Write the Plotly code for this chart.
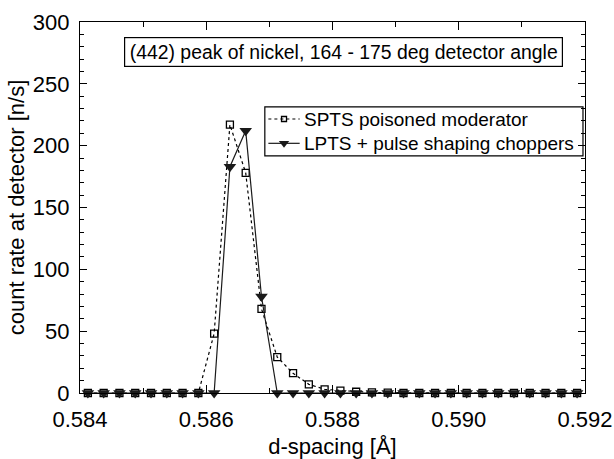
import plotly.graph_objects as go

# d-spacing grid (Å): 32 points, step 0.00025
d_spacing = [0.584125 + 0.00025 * i for i in range(32)]

# count rate [n/s], SPTS poisoned moderator
spts_counts = [0, 0, 0, 0, 0, 0, 0, 0, 48, 217, 178, 68, 29, 16, 7, 3,
               2, 1, 0.5, 0.3, 0, 0, 0, 0, 0, 0, 0, 0, 0, 0, 0, 0]

# count rate [n/s], LPTS + pulse shaping choppers
lpts_counts = [0, 0, 0, 0, 0, 0, 0, 0, 0, 183, 212, 78, 0, 0, 0, 0,
               0, 0, 0, 0, 0, 0, 0, 0, 0, 0, 0, 0, 0, 0, 0, 0]

series_names = ["SPTS poisoned moderator", "LPTS + pulse shaping choppers"]

x_ticks = [0.584, 0.586, 0.588, 0.590, 0.592]
y_ticks = [0, 50, 100, 150, 200, 250, 300]

FONT = "Liberation Sans, Arial, sans-serif"

spts_style = dict(
    line=dict(color="black", width=1.2, dash="dot"),
    marker=dict(symbol="square-open", size=7, color="black",
                line=dict(width=1.3, color="black")),
)
lpts_style = dict(
    line=dict(color="#1a1a1a", width=1.2),
    marker=dict(symbol="triangle-down", size=11, color="#1a1a1a"),
)

fig = go.Figure()

fig.add_trace(go.Scatter(
    x=d_spacing, y=spts_counts, mode="lines+markers",
    name=series_names[0], showlegend=False, cliponaxis=False, **spts_style,
))
fig.add_trace(go.Scatter(
    x=d_spacing, y=lpts_counts, mode="lines+markers",
    name=series_names[1], showlegend=False, cliponaxis=False, **lpts_style,
))

# --- compact legend box drawn on a hidden overlay axis (0..1 in plot-area units)
leg_x0, leg_x1 = 0.366, 0.996
leg_y0, leg_y1 = 0.639, 0.771
row_y = [0.7385, 0.673]
sample_x = [0.373, 0.404, 0.435]
text_x = 0.439

fig.add_shape(type="rect", xref="paper", yref="paper",
              x0=leg_x0, x1=leg_x1, y0=leg_y0, y1=leg_y1,
              line=dict(color="black", width=1.2), fillcolor="white", layer="below")

for name, style, yy, msize in zip(series_names, [spts_style, lpts_style], row_y, [5, 9]):
    marker = dict(style["marker"])
    marker["size"] = msize
    fig.add_trace(go.Scatter(
        x=sample_x, y=[yy] * 3, xaxis="x2", yaxis="y2",
        mode="lines", line=style["line"], showlegend=False, hoverinfo="skip",
    ))
    fig.add_trace(go.Scatter(
        x=[sample_x[1]], y=[yy], xaxis="x2", yaxis="y2",
        mode="markers", marker=marker, showlegend=False, hoverinfo="skip",
    ))
    fig.add_annotation(
        xref="paper", yref="paper", x=text_x, y=yy,
        xanchor="left", yanchor="middle", text=name, showarrow=False,
        font=dict(family=FONT, size=19, color="black"),
    )

axis_common = dict(
    showline=True, linecolor="black", linewidth=1.3, mirror="allticks",
    ticks="inside", tickcolor="black", tickwidth=1.2,
    showgrid=False, zeroline=False, automargin=False,
    tickfont=dict(family=FONT, size=22, color="black"),
    title_font=dict(family=FONT, size=22, color="black"),
)

fig.update_layout(
    xaxis=dict(
        range=[0.584, 0.592], tickvals=x_ticks, tickformat=".3f", ticklen=8,
        minor=dict(dtick=0.001, ticklen=5, ticks="inside", tickcolor="black", tickwidth=1.2),
        ticklabelstandoff=6,
        title=dict(text="d-spacing [Å]", standoff=10),
        **axis_common,
    ),
    yaxis=dict(
        range=[0, 300], tickvals=y_ticks, ticklen=7,
        minor=dict(dtick=10, ticklen=4, ticks="inside", tickcolor="black", tickwidth=1.2),
        ticklabelstandoff=5,
        title=dict(text="count rate at detector [n/s]", standoff=2),
        **axis_common,
    ),
    xaxis2=dict(overlaying="x", range=[0, 1], visible=False, fixedrange=True),
    yaxis2=dict(overlaying="y", range=[0, 1], visible=False, fixedrange=True),
)

fig.add_annotation(
    xref="paper", yref="paper", x=0.522, y=0.919,
    xanchor="center", yanchor="middle",
    text="(442) peak of nickel, 164 - 175 deg detector angle",
    showarrow=False, font=dict(family=FONT, size=19.4, color="black"),
    bordercolor="black", borderwidth=1.2, borderpad=3, bgcolor="white",
    width=431, height=22,
)

fig.update_layout(
    width=614, height=459,
    margin=dict(l=80, r=29, t=22, b=66),
    paper_bgcolor="white", plot_bgcolor="white",
    showlegend=False,
)

fig.write_html("out.html")
